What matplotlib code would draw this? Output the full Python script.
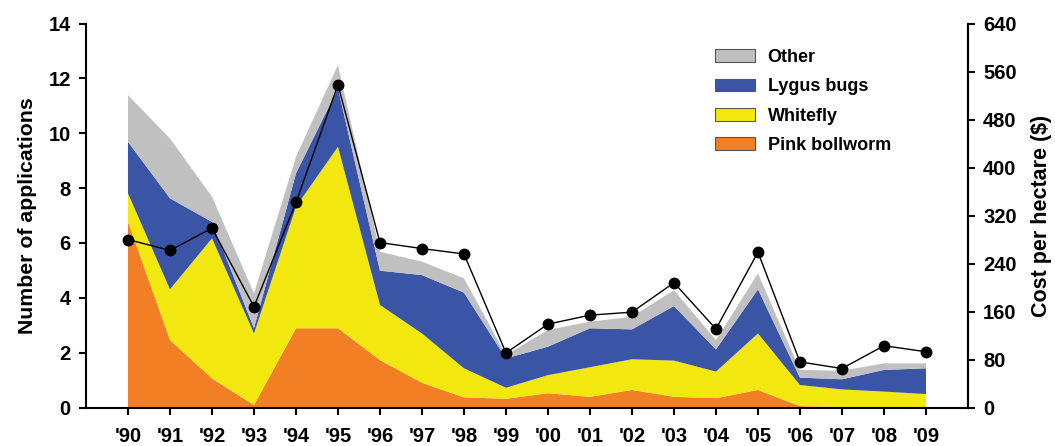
import matplotlib
matplotlib.use("Agg")
import matplotlib.pyplot as plt
from matplotlib.patches import Patch

plt.rcParams['font.family'] = ['Liberation Sans', 'DejaVu Sans']
plt.rcParams['font.weight'] = 'bold'

years = ["'90", "'91", "'92", "'93", "'94", "'95", "'96", "'97", "'98", "'99",
         "'00", "'01", "'02", "'03", "'04", "'05", "'06", "'07", "'08", "'09"]
pink_bollworm = [6.77, 2.46, 1.06, 0.09, 2.89, 2.89, 1.73, 0.90, 0.37, 0.32,
                 0.52, 0.39, 0.64, 0.39, 0.34, 0.64, 0.05, 0.02, 0.01, 0.00]
whitefly = [1.04, 1.85, 5.11, 2.61, 4.43, 6.62, 2.01, 1.80, 1.06, 0.40,
            0.66, 1.08, 1.12, 1.32, 0.97, 2.06, 0.77, 0.64, 0.57, 0.49]
lygus_bugs = [1.88, 3.32, 0.60, 0.19, 1.22, 2.13, 1.25, 2.13, 2.76, 1.07,
              1.04, 1.42, 1.09, 1.99, 0.81, 1.61, 0.27, 0.37, 0.79, 0.94]
other = [1.70, 2.18, 0.92, 1.27, 0.60, 0.85, 0.69, 0.49, 0.52, 0.12,
         0.61, 0.24, 0.46, 0.58, 0.34, 0.58, 0.28, 0.31, 0.24, 0.18]
cost_per_ha = [280, 262, 299, 168, 342, 538, 275, 265, 256, 91,
               139, 154, 159, 208, 131, 259, 76, 65, 103, 93]

series_names = ["Pink bollworm", "Whitefly", "Lygus bugs", "Other"]
colors = ["#F37F24", "#F2E70F", "#3A55A5", "#C0C0C0"]

fig = plt.figure(figsize=(10.55, 4.46), dpi=100)
ax = fig.add_axes([0.0815, 0.0863, 0.836, 0.8607])
x = list(range(len(years)))
ax.stackplot(x, pink_bollworm, whitefly, lygus_bugs, other, colors=colors, linewidth=0)
ax.set_xlim(-1, len(years))
ax.set_ylim(0, 14)
ax.set_yticks(range(0, 15, 2))
ax.set_xticks(x)
ax.set_xticklabels(years)
ax.spines['top'].set_visible(False)
for s in ['left', 'bottom', 'right']:
    ax.spines[s].set_linewidth(1.5)
ax.tick_params(axis='both', direction='out', length=5, width=1.5, labelsize=14.5)
ax.tick_params(axis='y', pad=6)
ax.tick_params(axis='x', pad=9)
ax.set_ylabel("Number of applications", fontsize=15.3, fontweight='bold', labelpad=8)

ax2 = ax.twinx()
ax2.plot(x, cost_per_ha, color='black', linewidth=1, marker='o', markersize=7.5)
ax2.set_ylim(0, 640)
ax2.set_yticks(range(0, 641, 80))
ax2.spines['top'].set_visible(False)
ax2.spines['left'].set_visible(False)
ax2.spines['bottom'].set_visible(False)
ax2.spines['right'].set_linewidth(1.5)
ax2.tick_params(axis='y', direction='out', length=5, width=1.5, labelsize=14.5, pad=6)
ax2.set_ylabel("Cost per hectare ($)", fontsize=15.5, fontweight='bold', labelpad=10)

handles = [Patch(facecolor=c, edgecolor='#555555', linewidth=0.8, label=n)
           for n, c in zip(series_names[::-1], colors[::-1])]
ax2.legend(handles=handles, loc='upper left', bbox_to_anchor=(0.713, 0.934), frameon=False,
           prop={'size': 13, 'weight': 'bold'}, handlelength=2.2, handleheight=0.7,
           labelspacing=0.68, handletextpad=0.72, borderpad=0, borderaxespad=0)

fig.savefig("out.png", dpi=100)
